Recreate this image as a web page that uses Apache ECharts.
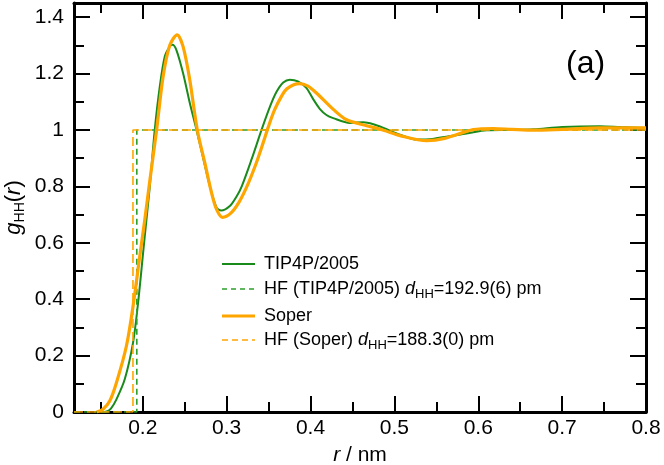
<!DOCTYPE html>
<html>
<head>
<meta charset="utf-8">
<script src="https://cdn.jsdelivr.net/npm/echarts@6/dist/echarts.min.js"></script>
<style>
  html, body { margin: 0; padding: 0; background: #fff; }
  #main { width: 664px; height: 465px; }
</style>
</head>
<body>
<div id="main"></div>
<script>
// g_HH(r), r in nm
const rTip = [0.150, 0.157, 0.162, 0.1686, 0.1785, 0.1884, 0.1944, 0.2004, 0.2044, 0.2084, 0.2143, 0.2203, 0.2263, 0.2322, 0.2354, 0.240, 0.248, 0.256, 0.264, 0.2724, 0.280, 0.288, 0.2935, 0.3038, 0.312, 0.318, 0.330, 0.3416, 0.352, 0.3595, 0.3675, 0.3754, 0.385, 0.395, 0.403, 0.411, 0.419, 0.427, 0.447, 0.463, 0.475, 0.487, 0.5067, 0.527, 0.545, 0.565, 0.586, 0.610, 0.640, 0.666, 0.700, 0.745, 0.770, 0.800];
const gTip = [0.0, 0.002, 0.012, 0.045, 0.116, 0.246, 0.387, 0.564, 0.682, 0.800, 1.001, 1.154, 1.261, 1.296, 1.302, 1.284, 1.202, 1.096, 1.001, 0.895, 0.800, 0.724, 0.714, 0.730, 0.765, 0.800, 0.898, 1.000, 1.085, 1.135, 1.168, 1.178, 1.172, 1.149, 1.110, 1.075, 1.053, 1.042, 1.025, 1.027, 1.020, 1.007, 0.983, 0.966, 0.968, 0.978, 0.987, 0.999, 1.000, 1.002, 1.010, 1.013, 1.010, 1.007];

const rSoper = [0.145, 0.1526, 0.1606, 0.1686, 0.1805, 0.1884, 0.1964, 0.2024, 0.2084, 0.2165, 0.2243, 0.2322, 0.241, 0.248, 0.256, 0.265, 0.274, 0.282, 0.288, 0.295, 0.305, 0.315, 0.325, 0.335, 0.3436, 0.3496, 0.357, 0.3655, 0.3715, 0.380, 0.387, 0.397, 0.407, 0.4275, 0.443, 0.467, 0.487, 0.5067, 0.5385, 0.560, 0.594, 0.618, 0.640, 0.666, 0.700, 0.745, 0.800];
const gSoper = [0.0, 0.01, 0.039, 0.104, 0.234, 0.375, 0.552, 0.682, 0.820, 1.0, 1.190, 1.300, 1.337, 1.296, 1.178, 1.0, 0.883, 0.777, 0.718, 0.690, 0.705, 0.745, 0.805, 0.880, 0.955, 1.010, 1.070, 1.120, 1.145, 1.160, 1.164, 1.155, 1.131, 1.072, 1.036, 1.015, 0.999, 0.980, 0.962, 0.970, 1.001, 1.005, 1.002, 0.999, 1.002, 1.007, 1.007];

// hard-sphere contact distances (nm)
const dTip = 0.1929;
const dSoper = 0.1883;

const xMajor = [0.2, 0.3, 0.4, 0.5, 0.6, 0.7, 0.8];
const xMinor = [0.15, 0.25, 0.35, 0.45, 0.55, 0.65, 0.75];
const yMajor = [0, 0.2, 0.4, 0.6, 0.8, 1, 1.2, 1.4];
const yMinor = [0.1, 0.3, 0.5, 0.7, 0.9, 1.1, 1.3];

const X_MIN = 0.118, X_MAX = 0.8, Y_MIN = 0, Y_MAX = 1.45;
const FONT = 'Liberation Sans, Arial, Helvetica, sans-serif';
const GREEN = '#1a8a1a';
const GREEN_DASH = '#2ca02c';
const ORANGE = '#ffa500';

const pairs = (xs, ys) => xs.map((x, i) => [x, ys[i]]);
const step = (d) => [[X_MIN, 0], [d, 0], [d, 1], [X_MAX, 1]];
const fmt = (v) => String(+(+v).toFixed(2));

function xAx(pos, ticks, len, withLine, withLabel) {
  return {
    type: 'value', position: pos, min: X_MIN, max: X_MAX,
    splitLine: { show: false },
    axisLine: { show: withLine, onZero: false, lineStyle: { color: '#000', width: 3 } },
    axisTick: { show: true, inside: true, length: len, customValues: ticks, lineStyle: { color: '#000', width: 2 } },
    axisLabel: withLabel
      ? { show: true, customValues: ticks, formatter: fmt, fontSize: 21, color: '#000', fontFamily: FONT, margin: 6 }
      : { show: false }
  };
}
function yAx(pos, ticks, len, withLine, withLabel) {
  return {
    type: 'value', position: pos, min: Y_MIN, max: Y_MAX,
    splitLine: { show: false },
    axisLine: { show: withLine, onZero: false, lineStyle: { color: '#000', width: 3 } },
    axisTick: { show: true, inside: true, length: len, customValues: ticks, lineStyle: { color: '#000', width: 2 } },
    axisLabel: withLabel
      ? { show: true, customValues: ticks, formatter: fmt, fontSize: 21, color: '#000', fontFamily: FONT, margin: 10 }
      : { show: false }
  };
}

const xAxes = [
  xAx('bottom', xMajor, 16, true, true),
  xAx('bottom', xMinor, 10, false, false),
  xAx('top', xMajor, 16, true, false),
  xAx('top', xMinor, 10, false, false)
];
Object.assign(xAxes[0], {
  name: '{i|r}{n| / nm}', nameLocation: 'middle', nameGap: 33,
  nameTextStyle: { rich: {
    i: { fontStyle: 'italic', fontSize: 21, fontFamily: FONT, color: '#000' },
    n: { fontSize: 21, fontFamily: FONT, color: '#000' }
  } }
});

const yAxes = [
  yAx('left', yMajor, 16, true, true),
  yAx('left', yMinor, 10, false, false),
  yAx('right', yMajor, 16, true, false),
  yAx('right', yMinor, 10, false, false)
];
Object.assign(yAxes[0], {
  name: '{i|g}{s|HH}{n|(}{i|r}{n|)}', nameLocation: 'middle', nameGap: 46,
  nameMoveOverlap: false,
  nameTextStyle: { rich: {
    i: { fontStyle: 'italic', fontSize: 22, fontFamily: FONT, color: '#000', lineHeight: 28 },
    n: { fontSize: 22, fontFamily: FONT, color: '#000', lineHeight: 28 },
    s: { fontSize: 14, fontFamily: FONT, color: '#000', lineHeight: 28, padding: [12, 0, 0, 0] }
  } }
});

// legend drawn by hand so the dashed samples and subscripts look right
const legendRows = [
  { y: 264, color: GREEN, width: 2, dash: null, text: '{n|TIP4P/2005}' },
  { y: 289, color: GREEN_DASH, width: 1.6, dash: [5, 4], text: '{n|HF (TIP4P/2005) }{i|d}{s|HH}{n|=192.9(6) pm}' },
  { y: 316, color: ORANGE, width: 3.2, dash: null, text: '{n|Soper}' },
  { y: 340, color: ORANGE, width: 1.6, dash: [6, 4], text: '{n|HF (Soper) }{i|d}{s|HH}{n|=188.3(0) pm}' }
];
const legendRich = {
  n: { fontSize: 18, fontFamily: FONT, fill: '#000', lineHeight: 22 },
  i: { fontSize: 18, fontFamily: FONT, fill: '#000', fontStyle: 'italic', lineHeight: 22 },
  s: { fontSize: 13, fontFamily: FONT, fill: '#000', lineHeight: 22, padding: [10, 0, 0, 0] }
};
const legendGraphics = [];
legendRows.forEach((row) => {
  legendGraphics.push({
    type: 'line', silent: true,
    shape: { x1: 222, y1: row.y, x2: 255, y2: row.y },
    style: { stroke: row.color, lineWidth: row.width, lineDash: row.dash }
  });
  legendGraphics.push({
    type: 'text', silent: true, x: 264, y: row.y,
    style: { text: row.text, rich: legendRich, verticalAlign: 'middle', align: 'left' }
  });
});

const chart = echarts.init(document.getElementById('main'), null, { renderer: 'canvas' });
chart.setOption({
  backgroundColor: '#fff',
  animation: false,
  title: {
    text: '(a)', left: 561, top: 43,
    textStyle: { fontSize: 32, fontWeight: 'normal', fontFamily: FONT, color: '#000' }
  },
  grid: { left: 74, right: 18, top: 3, bottom: 53, outerBoundsMode: 'none' },
  xAxis: xAxes,
  yAxis: yAxes,
  graphic: legendGraphics,
  series: [
    {
      name: 'TIP4P/2005', type: 'line', data: pairs(rTip, gTip), smooth: 0.3,
      showSymbol: false, symbol: 'none', lineStyle: { color: GREEN, width: 2 }
    },
    {
      name: 'HF (TIP4P/2005)', type: 'line', data: step(dTip),
      showSymbol: false, symbol: 'none', lineStyle: { color: GREEN_DASH, width: 1.6, type: [6, 4] }
    },
    {
      name: 'Soper', type: 'line', data: pairs(rSoper, gSoper), smooth: 0.3,
      showSymbol: false, symbol: 'none', lineStyle: { color: ORANGE, width: 3.2 }
    },
    {
      name: 'HF (Soper)', type: 'line', data: step(dSoper),
      showSymbol: false, symbol: 'none', lineStyle: { color: ORANGE, width: 1.6, type: [9, 4] }
    }
  ]
});
</script>
</body>
</html>
